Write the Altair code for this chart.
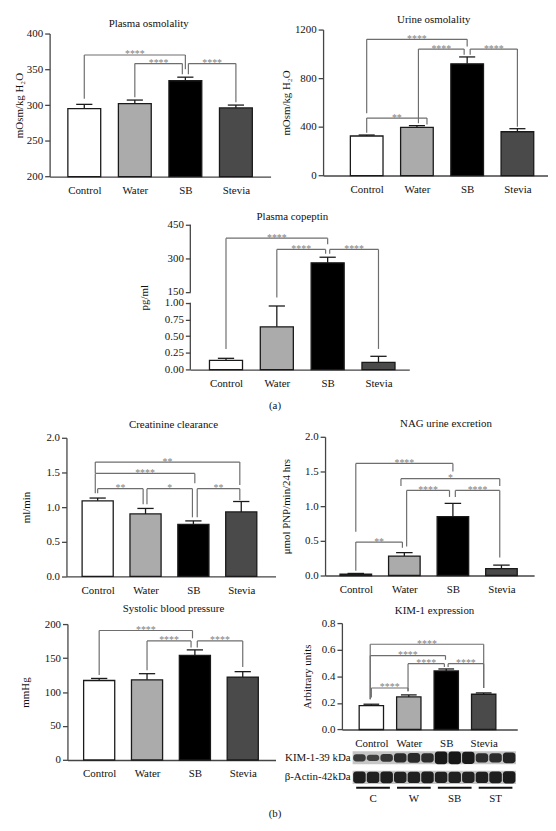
import altair as alt
import pandas as pd

FONT = "Liberation Serif"
INK = "#111111"
AXIS = "#454545"
BRACKET = "#6e6e6e"

groups = ["Control", "Water", "SB", "Stevia"]
bar_fill = ["#ffffff", "#ababab", "#000000", "#4a4a4a"]

# ---- (a) Plasma osmolality
po_mean = [295, 302, 334, 296]
po_err = [301, 307, 339, 300]
po_brackets = [  # left x, right x, level, left foot, right foot, label
    (0.0, 2.0, 370, 309, 350, "****"),
    (1.0, 1.94, 358, 311, 343, "****"),
    (2.06, 3.0, 358, 343, 304, "****"),
]
po_ticks = [200, 250, 300, 350, 400]

# ---- (a) Urine osmolality
uo_mean = [325, 395, 918, 360]
uo_err = [333, 410, 975, 385]
uo_brackets = [
    (0.0, 2.0, 1120, 512, 1060, "****"),
    (1.03, 1.94, 1040, 430, 992, "****"),
    (2.06, 3.0, 1040, 992, 400, "****"),
    (0.0, 1.2, 472, 352, 420, "**"),
]
uo_ticks = [0, 400, 800, 1200]

# ---- (a) Plasma copeptin (broken axis)
pc_mean = [0.14, 0.64, 280, 0.11]
pc_err = [0.17, 0.95, 305, 0.20]
pc_brackets = [
    (0.0, 2.0, 390, 0.31, 363, "****"),
    (1.0, 1.96, 340, 73, 321, "****"),
    (2.04, 3.0, 340, 321, 0.31, "****"),
]
pc_ticks = [0, 0.25, 0.5, 0.75, 1.0, 150, 300, 450]
pc_segments = [(0, 1.0), (150, 450)]

# ---- (b) Creatinine clearance
cc_mean = [1.09, 0.90, 0.75, 0.93]
cc_err = [1.13, 0.98, 0.80, 1.08]
cc_brackets = [
    (-0.05, 2.97, 1.65, 1.49, 1.32, "**"),
    (-0.05, 2.03, 1.485, 1.20, 1.344, "****"),
    (0.0, 0.95, 1.265, 1.20, 1.04, "**"),
    (1.03, 1.98, 1.265, 1.04, 0.852, "*"),
    (2.08, 2.97, 1.265, 0.852, 1.10, "**"),
]
cc_ticks = [0, 0.5, 1.0, 1.5, 2.0]

# ---- (b) NAG urine excretion
nag_mean = [0.02, 0.28, 0.85, 0.10]
nag_err = [0.03, 0.33, 1.04, 0.15]
nag_brackets = [
    (0.0, 2.0, 1.616, 0.632, 1.50, "****"),
    (0.93, 2.965, 1.396, 1.29, 1.29, "*"),
    (1.047, 1.93, 1.227, 0.42, 1.133, "****"),
    (2.05, 2.965, 1.227, 1.133, 0.258, "****"),
    (0.0, 0.96, 0.482, 0.07, 0.40, "**"),
]
nag_ticks = [0, 0.5, 1.0, 1.5, 2.0]

# ---- (b) Systolic blood pressure
sbp_mean = [117, 118, 154, 122]
sbp_err = [120, 127, 162, 130]
sbp_brackets = [
    (0.0, 1.95, 190.5, 125, 179, "****"),
    (1.0, 1.92, 175.2, 132, 165.6, "****"),
    (2.05, 3.0, 175.2, 165.6, 137, "****"),
]
sbp_ticks = [0, 50, 100, 150, 200]

# ---- (b) KIM-1 expression
kim_mean = [0.18, 0.245, 0.44, 0.265]
kim_err = [0.19, 0.26, 0.455, 0.275]
kim_brackets = [
    (-0.03, 3.0, 0.641, 0.227, 0.312, "****"),
    (-0.03, 1.98, 0.556, 0.227, 0.524, "****"),
    (0.98, 1.95, 0.495, 0.288, 0.47, "****"),
    (2.05, 3.0, 0.495, 0.47, 0.312, "****"),
    (0.0, 0.98, 0.312, 0.24, 0.288, "****"),
]
kim_ticks = [0, 0.2, 0.4, 0.6, 0.8]

# western blot (band strength per lane, 12 lanes)
blot_rows = ["KIM-1-39 kDa", "\u03b2-Actin-42kDa"]
kim_band = [0.55, 0.48, 0.6, 0.72, 0.74, 0.72, 0.97, 0.98, 0.93, 0.7, 0.72, 0.82]
actin_band = [0.9, 0.88, 0.9, 0.86, 0.88, 0.9, 0.87, 0.88, 0.86, 0.88, 0.9, 0.93]
blot_groups = ["C", "W", "SB", "ST"]


def spacer(w, h):
    return alt.Chart(pd.DataFrame({"v": [0]})).mark_point(opacity=0, size=0).encode(
        x=alt.value(0), y=alt.value(0)
    ).properties(width=w, height=h)


def label_chart(txt):
    return alt.Chart(pd.DataFrame({"t": [txt]})).mark_text(
        font=FONT, fontSize=11, color=INK, align="center", baseline="middle"
    ).encode(x=alt.value(0.5), y=alt.value(0.5), text="t:N").properties(width=1, height=1)


def panel(title, ytitle, means, errs, brackets, yscale, yticks, yfmt, base,
          width, height, xdom, title_dx, title_offset, ytitle_x, cap,
          ylabel_expr=None, ydomain_line=True, extra=()):
    xs = alt.Scale(domain=xdom, nice=False, zero=False)
    bars = pd.DataFrame({"g": groups, "pos": [0, 1, 2, 3], "m": means, "fill": bar_fill})
    bars["xl"] = bars["pos"] - 0.325
    bars["xr"] = bars["pos"] + 0.325
    bars["base"] = base

    xaxis = alt.Axis(values=[0, 1, 2, 3],
                     labelExpr="['Control','Water','SB','Stevia'][round(datum.value)]",
                     ticks=False, tickSize=0, labelPadding=8, title=None, grid=False,
                     labelFlush=False, labelOverlap=False)
    yaxis_kw = dict(values=yticks, grid=False, tickSize=5, labelPadding=2,
                    title=ytitle, titleX=ytitle_x, titleY=height / 2,
                    titleAlign="center", titleBaseline="middle", titleAngle=270,
                    labelOverlap=False, labelFlush=False, domain=ydomain_line)
    if ylabel_expr:
        yaxis_kw["labelExpr"] = ylabel_expr
    else:
        yaxis_kw["format"] = yfmt
    yaxis = alt.Axis(**yaxis_kw)

    def X(f):
        return alt.X(f, scale=xs, axis=xaxis)

    def Y(f):
        return alt.Y(f, scale=yscale, axis=yaxis)

    bar_layer = alt.Chart(bars).mark_rect(stroke="#1a1a1a", strokeWidth=1.3).encode(
        x=X("xl:Q"), x2="xr:Q", y=Y("m:Q"), y2="base:Q",
        fill=alt.Fill("fill:N", scale=None),
    )

    err_rows = []
    for p, m, e in zip(range(4), means, errs):
        err_rows.append({"xl": p, "xr": p, "m": m, "base": e})
        err_rows.append({"xl": p - cap, "xr": p + cap, "m": e, "base": e})
    err_layer = alt.Chart(pd.DataFrame(err_rows)).mark_rule(color="#1a1a1a", strokeWidth=1.3).encode(
        x=X("xl:Q"), x2="xr:Q", y=Y("m:Q"), y2="base:Q",
    )

    br_rows, lab_rows = [], []
    for xa, xb, lv, fa, fb, lab in brackets:
        br_rows.append({"xl": xa, "xr": xb, "m": lv, "base": lv})
        br_rows.append({"xl": xa, "xr": xa, "m": fa, "base": lv})
        br_rows.append({"xl": xb, "xr": xb, "m": fb, "base": lv})
        lab_rows.append({"xl": (xa + xb) / 2, "m": lv, "t": lab})
    br_layer = alt.Chart(pd.DataFrame(br_rows)).mark_rule(color=BRACKET, strokeWidth=1.2).encode(
        x=X("xl:Q"), x2="xr:Q", y=Y("m:Q"), y2="base:Q",
    )
    lab_layer = alt.Chart(pd.DataFrame(lab_rows)).mark_text(
        font=FONT, fontSize=10, color="#808080", align="center", baseline="alphabetic", dy=2.5
    ).encode(x=X("xl:Q"), y=Y("m:Q"), text="t:N")
    layers = [bar_layer, err_layer, br_layer, lab_layer]
    for fn in extra:
        layers.extend(fn(X, Y))
    return alt.layer(*layers).properties(
        width=width, height=height,
        title=alt.TitleParams(title, font=FONT, fontSize=11, fontWeight="normal", color=INK,
                              anchor="middle", frame="group", offset=title_offset, dx=title_dx),
    )


def broken_axis(X, Y):
    df = pd.DataFrame([{"xl": -0.702, "m": a, "base": b} for a, b in pc_segments])
    return [alt.Chart(df).mark_rule(color=AXIS, strokeWidth=1.3).encode(
        x=X("xl:Q"), y=Y("m:Q"), y2="base:Q")]


def blot(X, Y):
    x0, x1 = -0.5, 3.862
    lw = (x1 - x0) / 12
    row_y = [-0.213, -0.36]
    half = 0.049
    bg = pd.DataFrame([{"xl": x0, "xr": x1, "m": c - half, "base": c + half} for c in row_y])
    bands = []
    for c, vals in zip(row_y, [kim_band, actin_band]):
        for i, v in enumerate(vals):
            bands.append({"xl": x0 + i * lw + 0.015, "xr": x0 + (i + 1) * lw - 0.015,
                          "m": c - half * v, "base": c + half * v, "o": 0.55 + 0.45 * v})
    bands = pd.DataFrame(bands)
    names = pd.DataFrame({"xl": [x0, x0], "m": row_y, "t": blot_rows})
    ul = pd.DataFrame([{"xl": x0 + lw * (3 * g + 1.5) - 0.45, "xr": x0 + lw * (3 * g + 1.5) + 0.45,
                        "m": -0.438} for g in range(4)])
    gl = pd.DataFrame([{"xl": x0 + lw * (3 * g + 1.5), "m": -0.52, "t": blot_groups[g]} for g in range(4)])
    return [
        alt.Chart(bg).mark_rect(color="#c6c6c6").encode(x=X("xl:Q"), x2="xr:Q", y=Y("m:Q"), y2="base:Q"),
        alt.Chart(bands).mark_rect(color="#161616", cornerRadius=3).encode(
            x=X("xl:Q"), x2="xr:Q", y=Y("m:Q"), y2="base:Q", opacity=alt.Opacity("o:Q", scale=None)),
        alt.Chart(names).mark_text(font=FONT, fontSize=11, color=INK, align="right",
                                   baseline="middle", dx=-2).encode(x=X("xl:Q"), y=Y("m:Q"), text="t:N"),
        alt.Chart(ul).mark_rule(color=INK, strokeWidth=2).encode(x=X("xl:Q"), x2="xr:Q", y=Y("m:Q")),
        alt.Chart(gl).mark_text(font=FONT, fontSize=11, color=INK, align="center",
                                baseline="middle").encode(x=X("xl:Q"), y=Y("m:Q"), text="t:N"),
    ]


def lin(dom):
    return alt.Scale(domain=dom, nice=False, zero=False)


A1 = panel("Plasma osmolality", "mOsm/kg H\u2082O", po_mean, po_err, po_brackets,
           lin([200, 400]), po_ticks, "d", 200, 223, 144.4, [-0.686, 3.686],
           -11.5, -1.5, -30, 0.16)
A2 = panel("Urine osmolality", "mOsm/kg H\u2082O", uo_mean, uo_err, uo_brackets,
           lin([0, 1200]), uo_ticks, "d", 0, 227, 147.3, [-0.868, 3.609],
           -1.8, -1.0, -36.7, 0.16)
A3 = panel("Plasma copeptin", "pg/ml", pc_mean, pc_err, pc_brackets,
           alt.Scale(domain=[0, 1, 150, 450], range=[146.3, 78.6, 67.8, 0], nice=False, zero=False),
           pc_ticks, "d", 0, 221, 146.3, [-0.702, 3.606], -7.5, -3.5, -46.7, 0.16,
           ylabel_expr="datum.value <= 1 ? format(datum.value, '.2f') : format(datum.value, 'd')",
           ydomain_line=False, extra=[broken_axis])
B1 = panel("Creatinine clearance", "ml/min", cc_mean, cc_err, cc_brackets,
           lin([0, 2]), cc_ticks, ".1f", 0, 211, 139.8, [-0.652, 3.716],
           2.5, 2.2, -40, 0.17)
B2 = panel("NAG urine excretion", "\u03bcmol PNP/min/24 hrs", nag_mean, nag_err, nag_brackets,
           lin([0, 2]), nag_ticks, ".1f", 0, 211, 140, [-0.633, 3.673],
           16.5, 1.5, -38.7, 0.17)
B3 = panel("Systolic blood pressure", "mmHg", sbp_mean, sbp_err, sbp_brackets,
           lin([0, 200]), sbp_ticks, "d", 0, 210, 137.2, [-0.663, 3.685],
           2, 4.5, -42, 0.17)
B4 = panel("KIM-1 expression", "Arbitrary units", kim_mean, kim_err, kim_brackets,
           lin([0, 0.8]), kim_ticks, ".1f", 0, 177, 107.4, [-0.786, 3.897],
           5, 1.0, -35, 0.21, extra=[blot])


def row(x, chart):
    return alt.hconcat(spacer(x, 1), chart, spacing=0, bounds="flush")


items = [
    spacer(1, 17.3), row(318, A2),
    spacer(1, 3.9), row(42, A1),
    spacer(1, 192.5), row(184, A3),
    spacer(1, 181.7), row(269, label_chart("(a)")),
    spacer(1, 31.4), row(320, B2),
    spacer(1, 1.0), row(59, B1),
    spacer(1, 186.6), row(336.3, B4),
    spacer(1, 1.0), row(60, B3),
    spacer(1, 190.6), row(269, label_chart("(b)")),
]

chart = alt.vconcat(*items, spacing=0, bounds="flush", padding=0).configure_view(
    strokeWidth=0
).configure_axis(
    labelFont=FONT, titleFont=FONT, labelFontSize=11, titleFontSize=11,
    titleFontWeight="normal", labelColor=INK, titleColor=INK,
    domainColor=AXIS, tickColor=AXIS, domainWidth=1.3, tickWidth=1.3,
)

chart.save("out.html", embed_options={"renderer": "svg", "actions": False})
